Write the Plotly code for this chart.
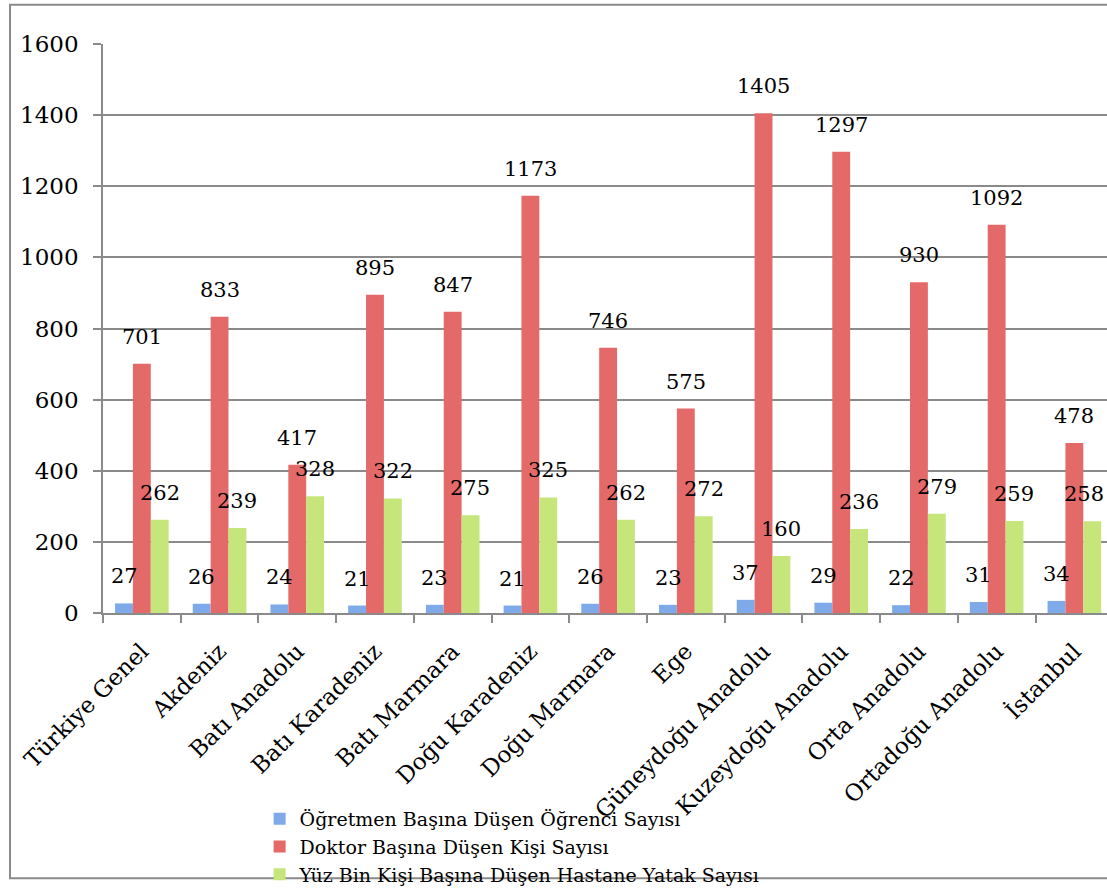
import plotly.graph_objects as go

categories = ["Türkiye Genel", "Akdeniz", "Batı Anadolu", "Batı Karadeniz", "Batı Marmara",
              "Doğu Karadeniz", "Doğu Marmara", "Ege", "Güneydoğu Anadolu", "Kuzeydoğu Anadolu",
              "Orta Anadolu", "Ortadoğu Anadolu", "İstanbul"]
ogretmen = [27, 26, 24, 21, 23, 21, 26, 23, 37, 29, 22, 31, 34]
doktor = [701, 833, 417, 895, 847, 1173, 746, 575, 1405, 1297, 930, 1092, 478]
yatak = [262, 239, 328, 322, 275, 325, 262, 272, 160, 236, 279, 259, 258]

series = [
    ("Öğretmen Başına Düşen Öğrenci Sayısı", ogretmen, "#7eaaea"),
    ("Doktor Başına Düşen Kişi Sayısı", doktor, "#e46a6a"),
    ("Yüz Bin Kişi Başına Düşen Hastane Yatak Sayısı", yatak, "#c6e67c"),
]

FONT = "DejaVu Serif"
fig = go.Figure()
for name, vals, col in series:
    fig.add_trace(go.Bar(x=categories, y=vals, name=name, marker=dict(color=col, line=dict(width=0)),
                         cliponaxis=False))

# data labels
bar_px = 17.7
n = len(categories)
for i, (name, vals, col) in enumerate(series):
    for k, (c, v) in enumerate(zip(categories, vals)):
        shift = (i - 1) * bar_px
        if k == n - 1 and i == 2:
            shift -= 8  # keep the last label inside the chart edge
        fig.add_annotation(x=c, y=v, text=str(v), showarrow=False, xshift=shift,
                           yshift=27, font=dict(family=FONT, size=21, color="black"))

fig.add_shape(type="rect", xref="paper", yref="paper", x0=-0.0926, x1=1.02, y0=-0.466, y1=1.069,
              line=dict(color="#8a8a8a", width=2), layer="below")

fig.update_layout(
    width=1107, height=894,
    margin=dict(l=103, r=0, t=44, b=273),
    paper_bgcolor="white", plot_bgcolor="white",
    barmode="group", bargap=0.31, bargroupgap=0,
    font=dict(family=FONT, color="black"),
    showlegend=True,
    legend=dict(x=0.156, y=-0.329, xanchor="left", yanchor="top", orientation="v",
                font=dict(family=FONT, size=19, color="black"), bgcolor="rgba(0,0,0,0)",
                itemwidth=30, tracegroupgap=0),
    xaxis=dict(range=[-0.5, 12.42], tickangle=-45, tickson="boundaries", ticks="outside",
               ticklen=8, tickcolor="#8a8a8a", tickwidth=1.5, showline=True, linecolor="#8a8a8a",
               linewidth=1.5, showgrid=False, automargin=False, ticklabelstandoff=14,
               tickfont=dict(family=FONT, size=23, color="black")),
    yaxis=dict(range=[0, 1600], dtick=200, ticks="outside", ticklen=8, tickcolor="#8a8a8a",
               tickwidth=1.5, showline=True, linecolor="#8a8a8a", linewidth=1.5,
               showgrid=True, gridcolor="#8a8a8a", gridwidth=1.5, zeroline=False, automargin=False,
               ticklabelstandoff=10, tickfont=dict(family=FONT, size=23, color="black")),
)

fig.write_html("out.html", config={"displayModeBar": False},
               post_script="document.body.style.margin='0';document.body.style.overflow='hidden';")
